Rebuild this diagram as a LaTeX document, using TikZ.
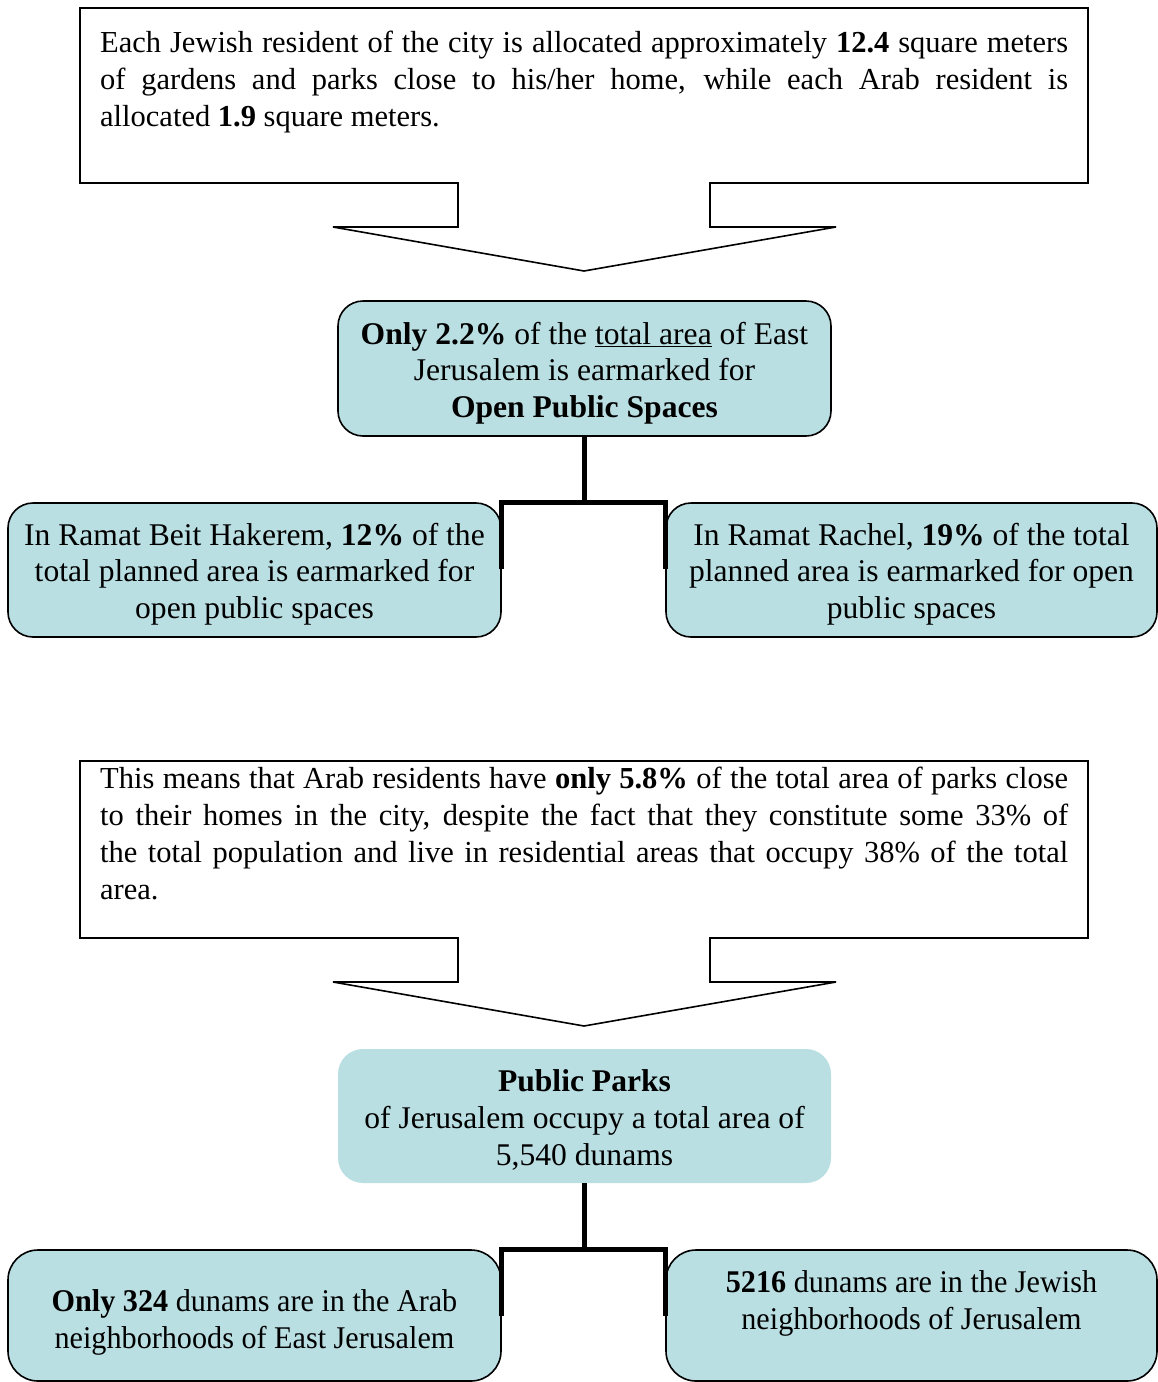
\documentclass[tikz,border=0pt]{standalone}
\usepackage{fontspec}
\setmainfont{Liberation Serif}
\newfontfamily\condfont[FakeStretch=0.955]{Liberation Serif}
\definecolor{boxfill}{RGB}{186,223,227}
\newcommand{\bodyfs}{\fontsize{30.5}{36.8}\selectfont}
\newcommand{\boxfs}{\fontsize{31.6}{36.7}\selectfont}
\begin{document}
\begin{tikzpicture}[x=1pt,y=-1pt,
  callout/.style={draw=black, line width=1.6pt, line join=miter, fill=white},
  rbox/.style={draw=black, line width=1.6pt, fill=boxfill, rounded corners=25pt, inner sep=0pt},
  fbox/.style={fill=boxfill, rounded corners=25pt, inner sep=0pt},
  txt/.style={inner sep=0pt, align=center, font=\boxfs},
  para/.style={inner sep=0pt, text width=968pt, align=justify, font=\bodyfs, anchor=north west},
  conn/.style={draw=black, line width=5pt, line join=miter}
]
\useasboundingbox (0,0) rectangle (1158,1382);
\fill[white] (0,0) rectangle (1158,1382);

% ---- top callout ----
\draw[callout] (80,8) -- (1088,8) -- (1088,183) -- (710,183) -- (710,227) -- (836,227)
  -- (584,271) -- (333,227) -- (458,227) -- (458,183) -- (80,183) -- cycle;
\node[para] (t1) at (100,31) {Each Jewish resident of the city is allocated approximately \textbf{12.4} square meters\linebreak
of gardens and parks close to his/her home, while each Arab resident is\linebreak allocated \textbf{1.9} square meters.};

% ---- box 2 ----
\node[rbox, minimum width=493pt, minimum height=135pt] (b2) at (584.5,368.5) {};
\node[txt] (t2) at (584.5,373) {\textbf{Only 2.2\%} of the \underline{total area} of East\\ Jerusalem is earmarked for\\ \textbf{Open Public Spaces}};

% ---- boxes 3 and 4 ----
\node[rbox, minimum width=493pt, minimum height=134pt] (b3) at (254.5,570) {};
\node[txt] (t3) at (b3.center) [yshift=-4pt] {In Ramat Beit Hakerem, \textbf{12\%} of the\\ total planned area is earmarked for\\ open public spaces};
\node[rbox, minimum width=491pt, minimum height=134pt] (b4) at (911.5,570) {};
\node[txt] (t4) at (b4.center) [yshift=-4pt] {In Ramat Rachel, \textbf{19\%} of the total\\ planned area is earmarked for open\\ public spaces};

\draw[conn] (b2.south) -- (b2.south |- b3.north);
\draw[conn] ([yshift=-67pt]b3.north east) -- (b3.north east) -- (b4.north west) -- ([yshift=-67pt]b4.north west);

% ---- second callout ----
\draw[callout] (80,761) -- (1088,761) -- (1088,938) -- (710,938) -- (710,982) -- (836,982)
  -- (584,1026) -- (333,982) -- (458,982) -- (458,938) -- (80,938) -- cycle;
\node[para] (t5) at (100,767) {This means that Arab residents have \textbf{only 5.8\%} of the total area of parks close\linebreak
to their homes in the city, despite the fact that they constitute some 33\% of\linebreak
the total population and live in residential areas that occupy 38\% of the total\linebreak area.};

% ---- box 6 ----
\node[fbox, minimum width=493pt, minimum height=134pt] (b6) at (584.5,1116) {};
\node[txt] (t6) at (b6.center) [yshift=-4pt] {\textbf{Public Parks}\\ of Jerusalem occupy a total area of\\ 5,540 dunams};

% ---- boxes 7 and 8 ----
\node[rbox, rounded corners=30pt, minimum width=493pt, minimum height=131pt] (b7) at (254.5,1315.5) {};
\node[txt, font=\boxfs\condfont] (t7) at (b7.center) [yshift=-7pt] {\textbf{Only 324} dunams are in the Arab\\ neighborhoods of East Jerusalem};
\node[rbox, rounded corners=30pt, minimum width=491pt, minimum height=131pt] (b8) at (911.5,1315.5) {};
\node[txt, font=\boxfs\condfont] (t8) at (b8.center) [yshift=12pt] {\textbf{5216} dunams are in the Jewish\\ neighborhoods of Jerusalem};

\draw[conn] (b6.south) -- (b6.south |- b7.north);
\draw[conn] ([yshift=-67pt]b7.north east) -- (b7.north east) -- (b8.north west) -- ([yshift=-67pt]b8.north west);
\end{tikzpicture}
\end{document}
